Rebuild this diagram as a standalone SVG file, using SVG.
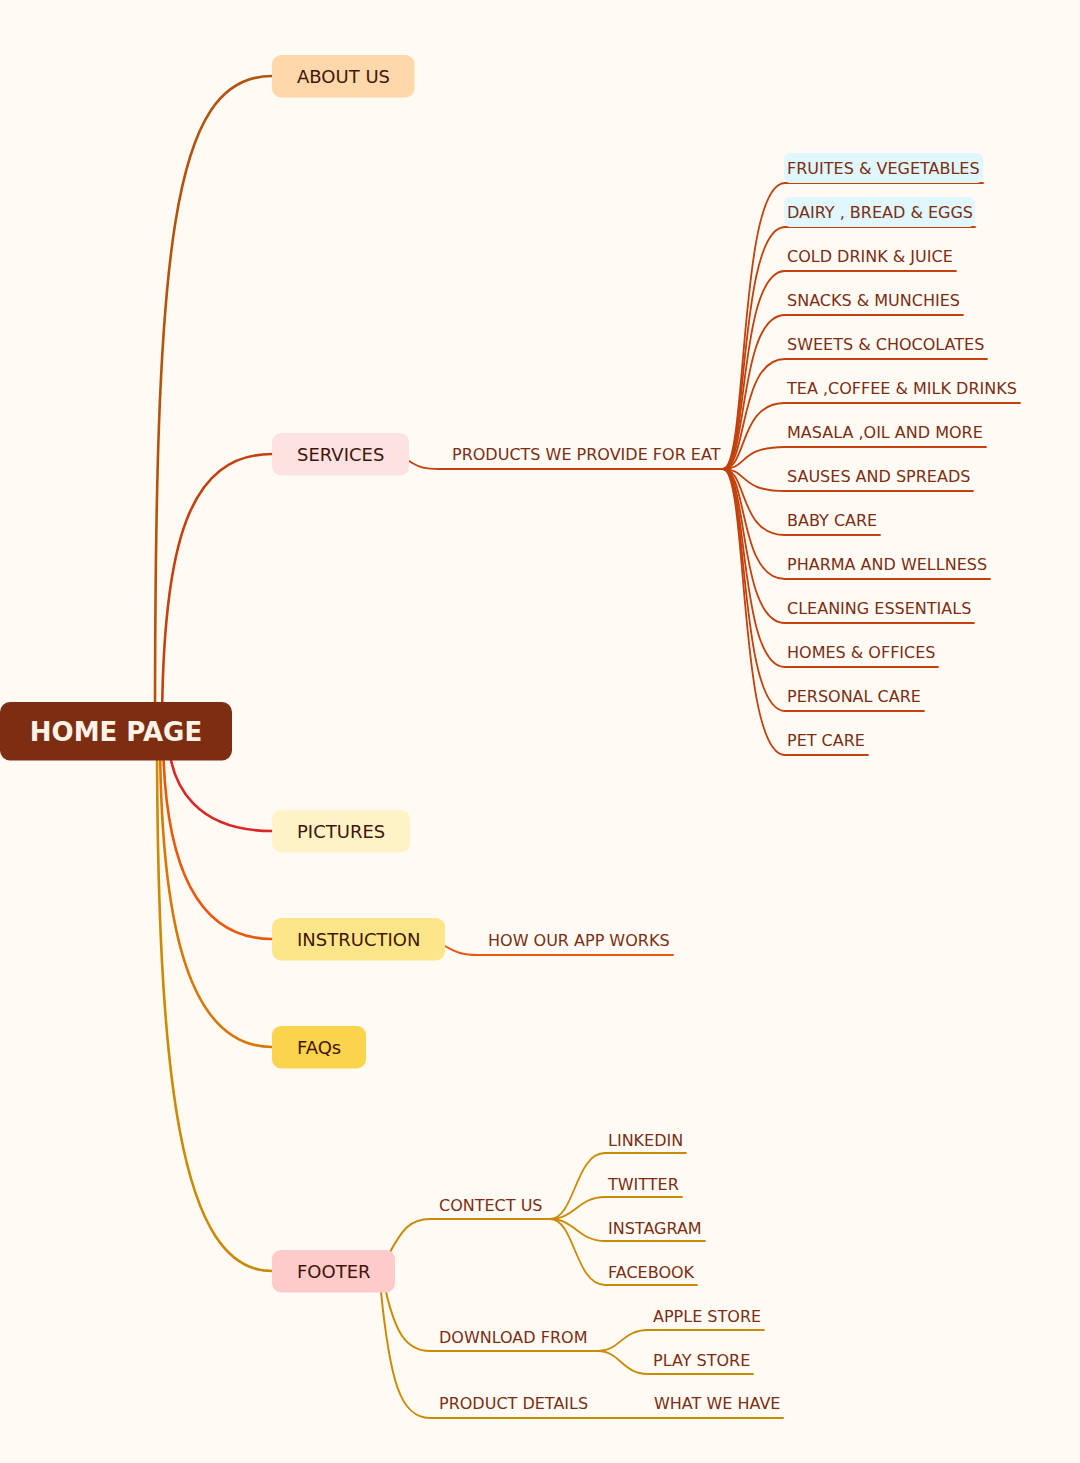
<svg xmlns="http://www.w3.org/2000/svg" width="1080" height="1463" viewBox="0 0 1080 1463">
<style>
.bg{fill:#fffbf4}
.lk{fill:none;stroke-linecap:round}
.main{stroke-width:2.6}
.sub{stroke-width:2}
.leaf{stroke-width:1.8}
.c1{stroke:#b45309}.c2{stroke:#c2410c}.c3{stroke:#dc2626}.c4{stroke:#ea580c}.c5{stroke:#d97706}.c6{stroke:#ca8a04}
.nt{font-family:"DejaVu Sans","Liberation Sans",sans-serif;font-size:18px;fill:#431407}
.lt{font-family:"DejaVu Sans","Liberation Sans",sans-serif;font-size:16px;fill:#7c2d12}
.rt{font-family:"DejaVu Sans","Liberation Sans",sans-serif;font-size:26px;font-weight:bold;fill:#fff3e8}
</style>
<rect class="bg" x="0" y="0" width="1080" height="1463"/>
<g id="connectors">
  <!-- root to main nodes -->
  <path class="lk main c1" d="M155,731 C155,250 170,76 272,76"/>
  <path class="lk main c2" d="M162,731 C162,540 190,454 272,454"/>
  <path class="lk main c3" d="M168,731 C168,790 200,831 272,831"/>
  <path class="lk main c4" d="M163,731 C163,860 195,939 272,939"/>
  <path class="lk main c5" d="M160,731 C160,930 190,1047 272,1047"/>
  <path class="lk main c6" d="M157,731 C157,1080 180,1271 272,1271"/>
  <!-- services -->
  <path class="lk sub c2" d="M409,461 C420,468 425,469 440,469 L723,469"/>
  <g class="lk leaf c2">
    <path d="M723,469 C748,469 738,183 785,183 L983,183"/>
    <path d="M723,469 C748,469 738,227 785,227 L975,227"/>
    <path d="M723,469 C748,469 738,271 785,271 L956,271"/>
    <path d="M723,469 C748,469 738,315 785,315 L963,315"/>
    <path d="M723,469 C748,469 738,359 785,359 L987,359"/>
    <path d="M723,469 C748,469 738,403 785,403 L1020,403"/>
    <path d="M723,469 C748,469 738,447 785,447 L986,447"/>
    <path d="M723,469 C748,469 738,491 785,491 L973,491"/>
    <path d="M723,469 C748,469 738,535 785,535 L880,535"/>
    <path d="M723,469 C748,469 738,579 785,579 L990,579"/>
    <path d="M723,469 C748,469 738,623 785,623 L974,623"/>
    <path d="M723,469 C748,469 738,667 785,667 L938,667"/>
    <path d="M723,469 C748,469 738,711 785,711 L924,711"/>
    <path d="M723,469 C748,469 738,755 785,755 L868,755"/>
  </g>
  <!-- instruction -->
  <path class="lk sub c4" d="M445,946 C455,952 462,955 478,955 L673,955"/>
  <!-- footer -->
  <g class="lk sub c6">
    <path d="M390,1252 C402,1230 410,1219 430,1219 L550,1219"/>
    <path d="M386,1292 C395,1330 405,1351 430,1351 L598,1351"/>
    <path d="M381,1292 C390,1380 400,1418 430,1418 L783,1418"/>
  </g>
  <g class="lk leaf c6">
    <path d="M550,1219 C575,1219 575,1153 605,1153 L686,1153"/>
    <path d="M550,1219 C575,1219 578,1197 605,1197 L682,1197"/>
    <path d="M550,1219 C575,1219 578,1241 605,1241 L705,1241"/>
    <path d="M550,1219 C575,1219 575,1285 605,1285 L697,1285"/>
    <path d="M598,1351 C620,1351 622,1330 648,1330 L764,1330"/>
    <path d="M598,1351 C620,1351 622,1374 648,1374 L753,1374"/>
  </g>
</g>
<g id="root">
  <rect x="0" y="702" width="232" height="58.5" rx="10" fill="#7c2d12"/>
  <text class="rt" x="116" y="741" text-anchor="middle">HOME PAGE</text>
</g>
<g id="about-us">
  <rect x="272" y="55" width="142.5" height="42.5" rx="9" fill="#fed7aa"/>
  <text class="nt" x="297" y="83">ABOUT US</text>
</g>
<g id="services">
  <rect x="272" y="433" width="137" height="42.5" rx="9" fill="#fee2e2"/>
  <text class="nt" x="297" y="461">SERVICES</text>
</g>
<g id="pictures">
  <rect x="272" y="810" width="138" height="42.5" rx="9" fill="#fef3c7"/>
  <text class="nt" x="297" y="838">PICTURES</text>
</g>
<g id="instruction">
  <rect x="272" y="918" width="173" height="42.5" rx="9" fill="#fde68a"/>
  <text class="nt" x="297" y="946">INSTRUCTION</text>
</g>
<g id="faqs">
  <rect x="272" y="1026" width="94" height="42.5" rx="9" fill="#fcd34d"/>
  <text class="nt" x="297" y="1054">FAQs</text>
</g>
<g id="footer">
  <rect x="272" y="1250" width="123" height="42.5" rx="9" fill="#fecaca"/>
  <text class="nt" x="297" y="1278">FOOTER</text>
</g>
<g id="products">
  <text class="lt" x="452" y="460">PRODUCTS WE PROVIDE FOR EAT</text>
</g>
<g id="product-items">
  <rect x="784" y="153" width="199" height="30" rx="6" fill="#e0f7fd"/>
  <rect x="784" y="197" width="191" height="30" rx="6" fill="#e0f7fd"/>
  <text class="lt" x="787" y="174">FRUITES &amp; VEGETABLES</text>
  <text class="lt" x="787" y="218">DAIRY , BREAD &amp; EGGS</text>
  <text class="lt" x="787" y="262">COLD DRINK &amp; JUICE</text>
  <text class="lt" x="787" y="306">SNACKS &amp; MUNCHIES</text>
  <text class="lt" x="787" y="350">SWEETS &amp; CHOCOLATES</text>
  <text class="lt" x="787" y="394">TEA ,COFFEE &amp; MILK DRINKS</text>
  <text class="lt" x="787" y="438">MASALA ,OIL AND MORE</text>
  <text class="lt" x="787" y="482">SAUSES AND SPREADS</text>
  <text class="lt" x="787" y="526">BABY CARE</text>
  <text class="lt" x="787" y="570">PHARMA AND WELLNESS</text>
  <text class="lt" x="787" y="614">CLEANING ESSENTIALS</text>
  <text class="lt" x="787" y="658">HOMES &amp; OFFICES</text>
  <text class="lt" x="787" y="702">PERSONAL CARE</text>
  <text class="lt" x="787" y="746">PET CARE</text>
</g>
<g id="how-our-app-works">
  <text class="lt" x="488" y="946">HOW OUR APP WORKS</text>
</g>
<g id="footer-items">
  <text class="lt" x="439" y="1211">CONTECT US</text>
  <text class="lt" x="608" y="1146">LINKEDIN</text>
  <text class="lt" x="608" y="1190">TWITTER</text>
  <text class="lt" x="608" y="1234">INSTAGRAM</text>
  <text class="lt" x="608" y="1278">FACEBOOK</text>
  <text class="lt" x="439" y="1343">DOWNLOAD FROM</text>
  <text class="lt" x="653" y="1322">APPLE STORE</text>
  <text class="lt" x="653" y="1366">PLAY STORE</text>
  <text class="lt" x="439" y="1409">PRODUCT DETAILS</text>
  <text class="lt" x="654" y="1409">WHAT WE HAVE</text>
</g>
</svg>
